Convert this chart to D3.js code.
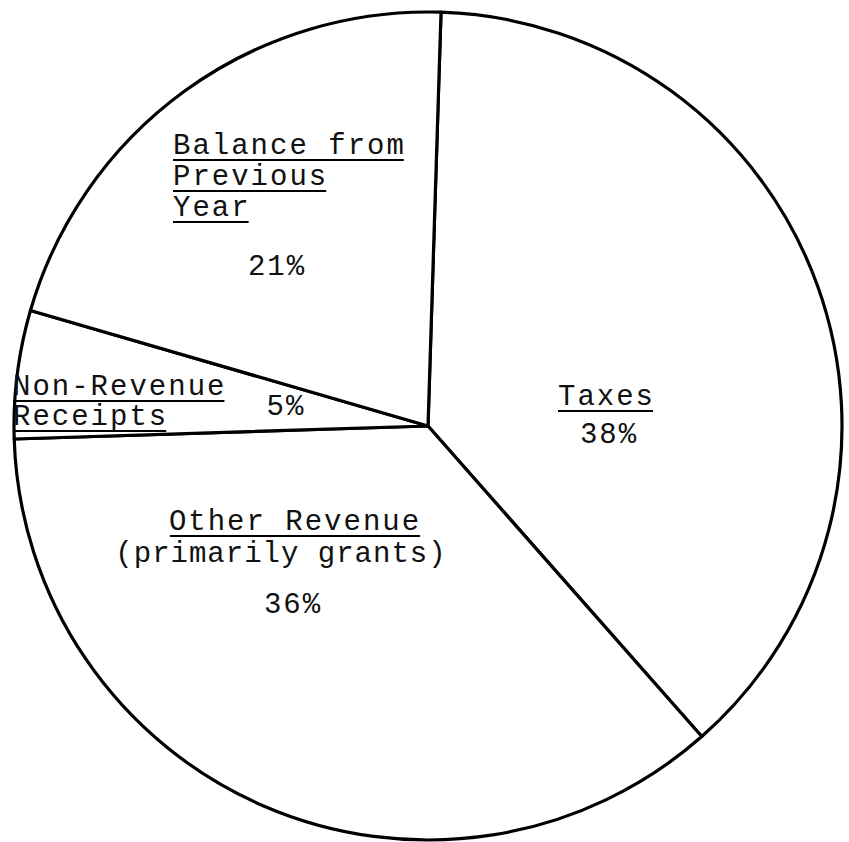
<!DOCTYPE html>
<html>
<head>
<meta charset="utf-8">
<script src="https://cdn.jsdelivr.net/npm/d3@7"></script>
<style>
  body { margin: 0; background: #fff; }
  text { font-family: "Liberation Mono", "Courier New", monospace; font-size: 29px; fill: #111; letter-spacing: 2px; }
</style>
</head>
<body>
<div id="pie_svg"></div>
<script>
var categories = ["Taxes", "Other Revenue", "Non-Revenue Receipts", "Balance from Previous Year"];
var shares = [38, 36, 5, 21];
var pctLabels = ["38%", "36%", "5%", "21%"];
// label lines for each slice, second field = underlined
var nameLines = [
  [["Taxes", true]],
  [["Other Revenue", true], ["(primarily grants)", false]],
  [["Non-Revenue", true], ["Receipts", true]],
  [["Balance from", true], ["Previous", true], ["Year", true]]
];

var width = 849, height = 842;
var cx = 428, cy = 426, radius = 414;

var svg = d3.select("#pie_svg").append("svg")
    .attr("width", width)
    .attr("height", height);

var g = svg.append("g")
    .attr("transform", "translate(" + cx + "," + cy + ")");

var pie = d3.pie()
    .sort(null)
    .startAngle(1.8 * Math.PI / 180)
    .endAngle(1.8 * Math.PI / 180 + 2 * Math.PI);

var arc = d3.arc().innerRadius(0).outerRadius(radius);

var arcs = pie(shares);

g.selectAll("path.slice")
    .data(arcs)
  .enter().append("path")
    .attr("class", "slice")
    .attr("d", arc)
    .style("fill", "#fff")
    .style("stroke", "#000")
    .style("stroke-width", 3.2)
    .style("stroke-linejoin", "round");

// label placement (page coordinates), tuned by eye
var namePos = [
  {x: 558, y: 405, anchor: "start", lh: 31},
  {x: 295, y: 530, anchor: "middle", lh: 32},
  {x: 13, y: 395, anchor: "start", lh: 30},
  {x: 173, y: 154, anchor: "start", lh: 31}
];
var pctPos = [
  {x: 609, y: 443},
  {x: 293, y: 613},
  {x: 286, y: 415},
  {x: 277, y: 275}
];

var labels = svg.append("g");

arcs.forEach(function(d, i) {
  var p = namePos[i];
  nameLines[i].forEach(function(line, j) {
    var t = labels.append("text")
        .attr("x", j > 0 && p.anchor == "middle" ? p.x - 14 : p.x)
        .attr("y", p.y + j * p.lh)
        .attr("text-anchor", p.anchor)
        .style("letter-spacing", j > 0 && p.anchor == "middle" ? "1px" : null)
        .text(line[0]);
    if (line[1]) {
      var len = t.node().getComputedTextLength() - 2;
      var x0 = p.anchor == "middle" ? p.x - len / 2 : p.x;
      labels.append("line")
          .attr("x1", x0)
          .attr("x2", x0 + len)
          .attr("y1", p.y + j * p.lh + 6)
          .attr("y2", p.y + j * p.lh + 6)
          .style("stroke", "#000")
          .style("stroke-width", 2);
    }
  });
  labels.append("text")
      .attr("x", pctPos[i].x)
      .attr("y", pctPos[i].y)
      .attr("text-anchor", "middle")
      .text(pctLabels[i]);
});
</script>
</body>
</html>
